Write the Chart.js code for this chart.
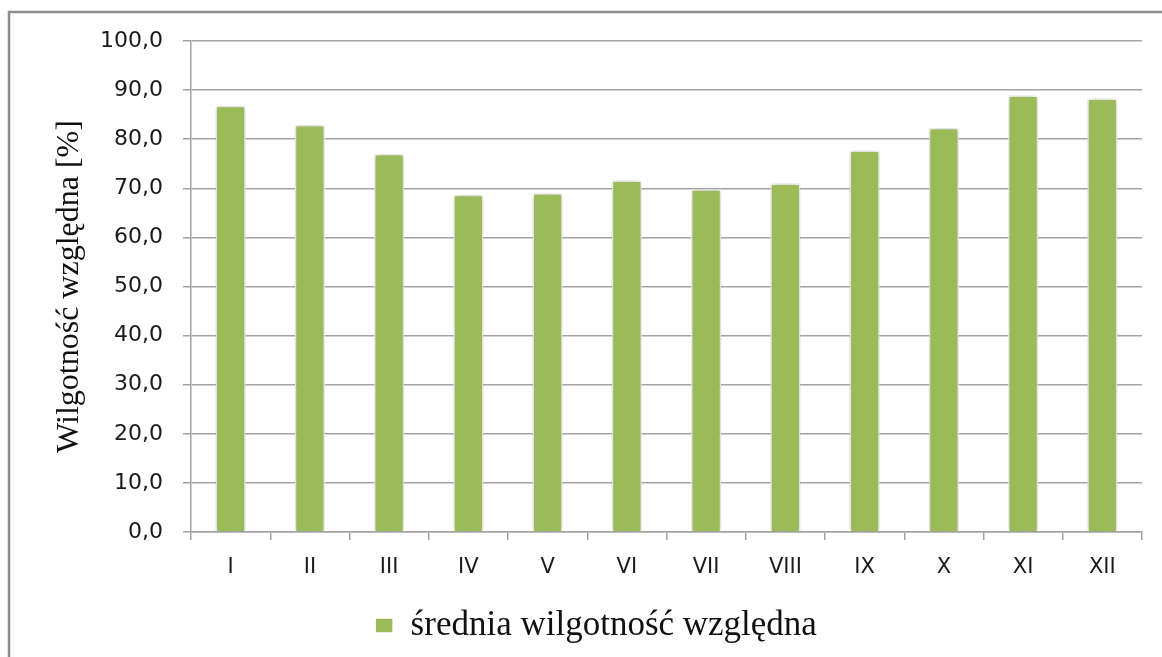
<!DOCTYPE html>
<html>
<head>
<meta charset="utf-8">
<script src="https://cdn.jsdelivr.net/npm/chart.js@4"></script>
<style>
  html, body { margin: 0; padding: 0; background: #fff; }
  #wrap { width: 1162px; height: 657px; }
</style>
</head>
<body>
<div id="wrap"><canvas id="humidityChart"></canvas></div>
<script>
// miesiace i srednia wilgotnosc
const months = ["I", "II", "III", "IV", "V", "VI", "VII", "VIII", "IX", "X", "XI", "XII"];
const humidity = [86.8, 82.9, 77.0, 68.7, 69.0, 71.6, 69.8, 71.0, 77.7, 82.3, 88.9, 88.3];
const seriesLabel = "średnia wilgotność względna";
const axisTitle = "Wilgotność względna [%]";

const ctx = document.getElementById("humidityChart").getContext("2d");

// ramka wokol wykresu + cien slupkow
const framePlugin = {
  id: "frame",
  beforeDraw(chart) {
    const c = chart.ctx;
    c.save();
    c.fillStyle = "#fff";
    c.fillRect(0, 0, chart.width, chart.height);
    c.strokeStyle = "#8c8c8c";
    c.lineWidth = 2.5;
    c.strokeRect(9, 12, chart.width + 20, chart.height + 20);
    c.restore();
  },
  beforeDatasetsDraw(chart) {
    const c = chart.ctx;
    c.save();
    c.shadowColor = "rgba(0,0,0,0.28)";
    c.shadowBlur = 6;
    c.shadowOffsetX = 0;
    c.shadowOffsetY = 0;
  },
  afterDatasetsDraw(chart) {
    chart.ctx.restore();
  },
};

new Chart(ctx, {
  type: "bar",
  data: {
    labels: months,
    datasets: [
      {
        label: seriesLabel,
        data: humidity,
        backgroundColor: "#9bbb59",
        borderColor: "#ffffff",
        borderWidth: 1.5,
        barPercentage: 0.38,
        categoryPercentage: 1,
      },
    ],
  },
  options: {
    responsive: true,
    maintainAspectRatio: false,
    animation: false,
    layout: {
      padding: { top: 41, right: 20, bottom: 4, left: 50 },
    },
    scales: {
      y: {
        min: 0,
        max: 100,
        afterFit(scale) {
          scale.width = 141;
        },
        ticks: {
          stepSize: 10,
          padding: 20,
          color: "#1a1a1a",
          font: { family: "DejaVu Sans", size: 22 },
          callback: (v) => v.toFixed(1).replace(".", ","),
        },
        grid: {
          color: "#a3a3a3",
          lineWidth: 1.5,
          tickLength: 8,
        },
        border: { color: "#a3a3a3", width: 1.5 },
        title: {
          display: true,
          text: axisTitle,
          color: "#111",
          font: { family: "Liberation Serif", size: 32 },
          padding: { top: 0, bottom: 0 },
        },
      },
      x: {
        afterFit(scale) {
          scale.height = 60;
        },
        ticks: {
          padding: 15,
          color: "#1a1a1a",
          font: { family: "DejaVu Sans", size: 21 },
        },
        grid: {
          drawOnChartArea: false,
          color: "#a3a3a3",
          lineWidth: 1.5,
          tickLength: 8,
        },
        border: { color: "#a3a3a3", width: 1.5 },
      },
    },
    plugins: {
      legend: {
        position: "bottom",
        labels: {
          boxWidth: 18,
          boxHeight: 15,
          padding: 16,
          color: "#111",
          font: { family: "Liberation Serif", size: 35 },
        },
      },
      tooltip: { enabled: false },
    },
  },
  plugins: [framePlugin],
});
</script>
</body>
</html>
